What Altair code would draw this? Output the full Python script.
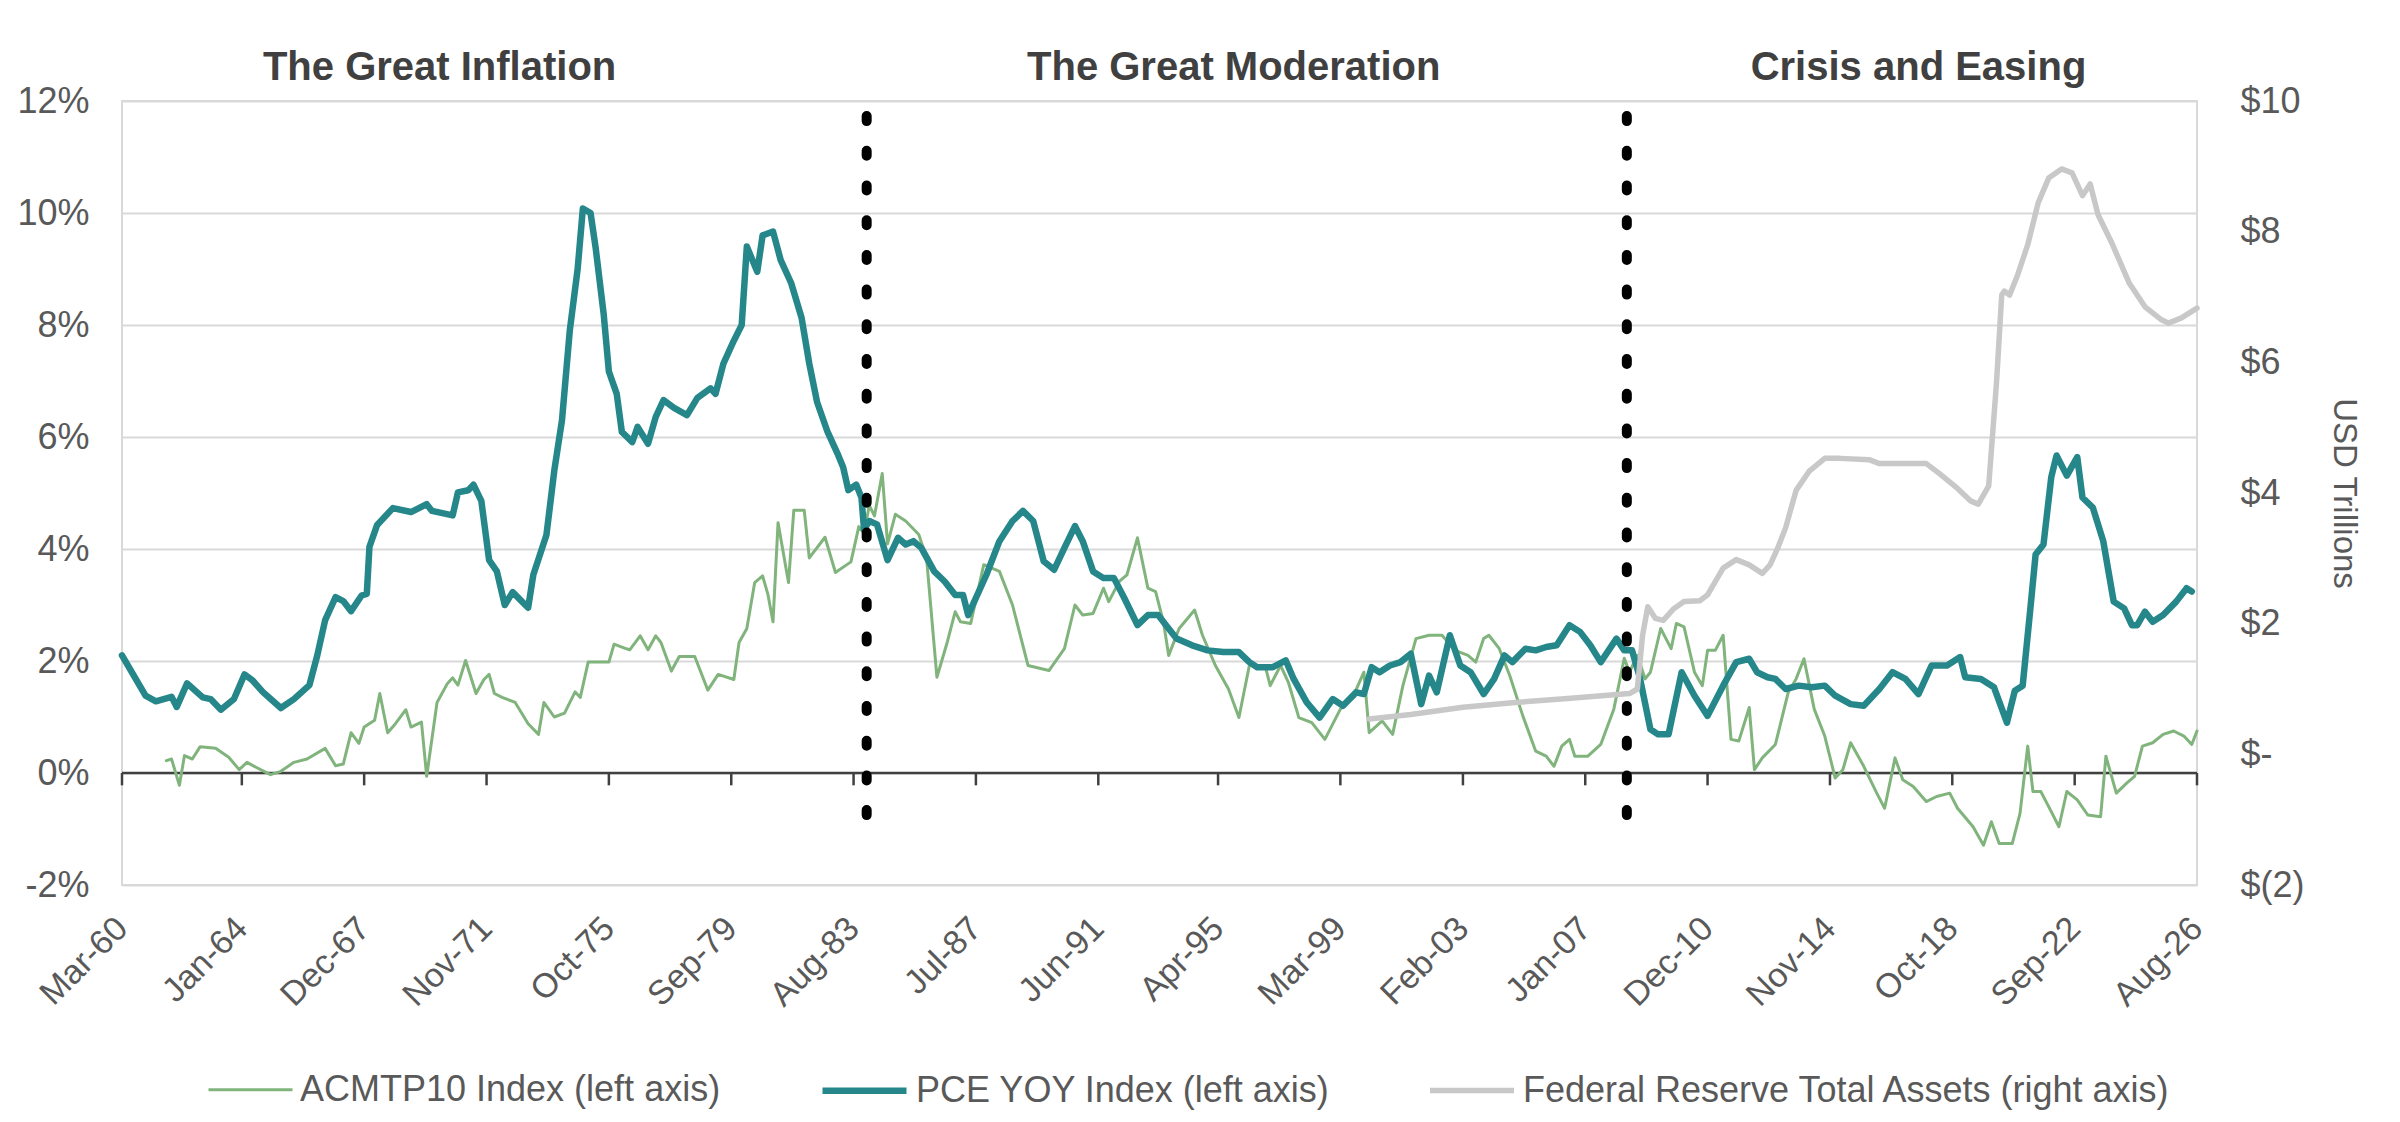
import altair as alt
import pandas as pd

FONT = "Liberation Sans"
TEXT = "#595959"
GRID = "#d9d9d9"

series_names = ["ACMTP10 Index (left axis)", "PCE YOY Index (left axis)",
                "Federal Reserve Total Assets (right axis)"]
series_colors = ["#80b47c", "#26878a", "#c8c8c8"]
series_widths = [3.0, 6.5, 5.5]

tick_dates = ["1960-03", "1964-01", "1967-12", "1971-11", "1975-10", "1979-09",
              "1983-08", "1987-07", "1991-06", "1995-04", "1999-03", "2003-02",
              "2007-01", "2010-12", "2014-11", "2018-10", "2022-09", "2026-08"]

era_labels = ["The Great Inflation", "The Great Moderation", "Crisis and Easing"]
era_dates = ["1970-05", "1995-10", "2017-09"]
era_level = 12.375

divider_dates = ["1984-01", "2008-05"]
divider_top = 11.73
divider_bottom = -0.875

pce_dates = ["1960-03", "1960-12", "1961-04", "1961-10", "1961-12", "1962-04", "1962-10", "1963-01",
             "1963-05", "1963-10", "1964-02", "1964-05", "1964-09", "1965-04", "1965-09", "1966-03",
             "1966-06", "1966-09", "1967-01", "1967-04", "1967-07", "1967-11", "1968-01", "1968-02",
             "1968-05", "1968-11", "1969-06", "1969-12", "1970-02", "1970-10", "1970-12", "1971-04",
             "1971-06", "1971-09", "1971-12", "1972-03", "1972-06", "1972-09", "1973-03", "1973-05",
             "1973-10", "1974-01", "1974-04", "1974-07", "1974-10", "1974-12", "1975-03", "1975-05",
             "1975-08", "1975-10", "1976-01", "1976-03", "1976-07", "1976-09", "1977-01", "1977-04",
             "1977-07", "1977-11", "1978-04", "1978-08", "1979-01", "1979-03", "1979-06", "1979-10",
             "1980-01", "1980-03", "1980-07", "1980-09", "1981-01", "1981-04", "1981-08", "1981-12",
             "1982-03", "1982-06", "1982-10", "1983-02", "1983-04", "1983-06", "1983-09", "1983-11",
             "1983-12", "1984-02", "1984-05", "1984-09", "1985-01", "1985-04", "1985-07", "1985-10",
             "1986-03", "1986-07", "1986-11", "1987-02", "1987-04", "1987-11", "1988-04", "1988-09",
             "1989-01", "1989-05", "1989-09", "1990-01", "1990-05", "1990-09", "1990-12", "1991-04",
             "1991-08", "1991-12", "1992-04", "1992-09", "1993-01", "1993-05", "1993-08", "1993-12",
             "1994-06", "1994-12", "1995-06", "1995-12", "1996-04", "1996-07", "1997-01", "1997-06",
             "1997-09", "1998-02", "1998-07", "1998-12", "1999-04", "1999-09", "1999-12", "2000-03",
             "2000-06", "2000-10", "2001-02", "2001-06", "2001-10", "2002-01", "2002-04", "2002-09",
             "2003-01", "2003-05", "2003-10", "2004-02", "2004-06", "2004-09", "2005-02", "2005-06",
             "2005-10", "2006-02", "2006-07", "2006-11", "2007-03", "2007-07", "2008-01", "2008-04",
             "2008-07", "2008-10", "2009-02", "2009-05", "2009-09", "2010-02", "2010-07", "2010-12",
             "2011-06", "2011-11", "2012-04", "2012-07", "2012-11", "2013-02", "2013-06", "2013-11",
             "2014-04", "2014-09", "2015-01", "2015-07", "2015-12", "2016-06", "2016-11", "2017-04",
             "2017-09", "2018-02", "2018-08", "2019-01", "2019-03", "2019-09", "2020-02", "2020-07",
             "2020-10", "2021-01", "2021-04", "2021-06", "2021-09", "2021-12", "2022-02", "2022-06",
             "2022-10", "2022-12", "2023-04", "2023-08", "2023-12", "2024-04", "2024-07", "2024-09",
             "2024-12", "2025-03", "2025-07", "2025-12", "2026-04", "2026-06"]
pce_vals = [2.10, 1.38, 1.28, 1.36, 1.18, 1.60, 1.35, 1.32,
            1.13, 1.32, 1.76, 1.66, 1.45, 1.16, 1.32, 1.57,
            2.10, 2.73, 3.14, 3.07, 2.89, 3.17, 3.20, 4.04,
            4.43, 4.73, 4.66, 4.80, 4.68, 4.60, 5.01, 5.05,
            5.15, 4.86, 3.80, 3.60, 3.00, 3.23, 2.95, 3.54,
            4.25, 5.40, 6.30, 7.90, 9.00, 10.08, 10.00, 9.36,
            8.20, 7.17, 6.77, 6.09, 5.91, 6.18, 5.88, 6.36,
            6.66, 6.52, 6.39, 6.70, 6.87, 6.77, 7.31, 7.72,
            8.00, 9.40, 8.95, 9.60, 9.67, 9.16, 8.75, 8.13,
            7.31, 6.62, 6.09, 5.68, 5.46, 5.05, 5.15, 4.92,
            4.35, 4.50, 4.44, 3.80, 4.20, 4.08, 4.14, 4.02,
            3.60, 3.42, 3.18, 3.18, 2.82, 3.54, 4.14, 4.50,
            4.68, 4.50, 3.78, 3.63, 4.02, 4.41, 4.14, 3.60,
            3.48, 3.48, 3.12, 2.64, 2.82, 2.82, 2.64, 2.40,
            2.28, 2.19, 2.16, 2.16, 1.98, 1.89, 1.89, 2.01,
            1.68, 1.26, 0.99, 1.32, 1.20, 1.44, 1.41, 1.89,
            1.80, 1.92, 1.98, 2.13, 1.23, 1.74, 1.44, 2.46,
            1.92, 1.80, 1.41, 1.68, 2.10, 1.98, 2.22, 2.19,
            2.25, 2.28, 2.64, 2.52, 2.28, 1.98, 2.40, 2.19,
            2.19, 1.70, 0.78, 0.69, 0.69, 1.80, 1.38, 1.02,
            1.56, 1.98, 2.04, 1.80, 1.71, 1.68, 1.50, 1.56,
            1.53, 1.56, 1.38, 1.23, 1.20, 1.50, 1.80, 1.68,
            1.41, 1.92, 1.92, 2.07, 1.71, 1.68, 1.53, 0.90,
            1.47, 1.56, 2.94, 3.90, 4.08, 5.28, 5.67, 5.31,
            5.64, 4.92, 4.74, 4.14, 3.06, 2.94, 2.64, 2.64,
            2.88, 2.70, 2.82, 3.06, 3.30, 3.24]

acm_dates = ["1961-08", "1961-10", "1962-01", "1962-03", "1962-06", "1962-09", "1963-03", "1963-08",
             "1963-12", "1964-03", "1964-07", "1964-12", "1965-04", "1965-09", "1966-02", "1966-09",
             "1967-01", "1967-04", "1967-07", "1967-10", "1967-12", "1968-04", "1968-06", "1968-09",
             "1968-12", "1969-04", "1969-06", "1969-10", "1969-12", "1970-04", "1970-08", "1970-10",
             "1970-12", "1971-03", "1971-07", "1971-10", "1971-12", "1972-02", "1972-05", "1972-10",
             "1973-03", "1973-07", "1973-09", "1974-01", "1974-05", "1974-09", "1974-11", "1975-02",
             "1975-06", "1975-10", "1975-12", "1976-04", "1976-06", "1976-10", "1977-01", "1977-04",
             "1977-06", "1977-10", "1978-01", "1978-07", "1978-12", "1979-04", "1979-10", "1979-12",
             "1980-03", "1980-06", "1980-09", "1980-11", "1981-01", "1981-03", "1981-07", "1981-09",
             "1982-01", "1982-03", "1982-09", "1983-01", "1983-07", "1983-10", "1983-12", "1984-02",
             "1984-04", "1984-07", "1984-09", "1984-12", "1985-04", "1985-09", "1985-12", "1986-04",
             "1986-08", "1986-11", "1987-01", "1987-05", "1987-10", "1988-04", "1988-09", "1989-03",
             "1989-11", "1990-05", "1990-09", "1990-12", "1991-04", "1991-08", "1991-10", "1992-02",
             "1992-05", "1992-09", "1993-01", "1993-04", "1993-07", "1993-09", "1994-01", "1994-07",
             "1994-10", "1995-03", "1995-08", "1995-12", "1996-04", "1996-10", "1996-12", "1997-04",
             "1997-07", "1997-11", "1998-04", "1998-09", "1999-03", "1999-08", "1999-12", "2000-02",
             "2000-07", "2000-11", "2001-03", "2001-08", "2002-01", "2002-06", "2002-11", "2003-04",
             "2003-07", "2003-10", "2003-12", "2004-04", "2004-08", "2005-01", "2005-06", "2005-10",
             "2006-01", "2006-04", "2006-07", "2006-09", "2007-02", "2007-07", "2007-12", "2008-04",
             "2008-06", "2008-09", "2008-12", "2009-02", "2009-06", "2009-10", "2009-12", "2010-03",
             "2010-07", "2010-10", "2010-12", "2011-03", "2011-06", "2011-09", "2011-12", "2012-04",
             "2012-06", "2012-09", "2013-02", "2013-07", "2013-10", "2014-01", "2014-05", "2014-09",
             "2015-01", "2015-04", "2015-07", "2015-12", "2016-05", "2016-08", "2016-12", "2017-03",
             "2017-07", "2017-12", "2018-04", "2018-09", "2018-12", "2019-06", "2019-10", "2020-01",
             "2020-04", "2020-09", "2020-12", "2021-03", "2021-05", "2021-08", "2021-11", "2022-03",
             "2022-06", "2022-10", "2023-02", "2023-07", "2023-09", "2024-01", "2024-05", "2024-08",
             "2024-11", "2025-03", "2025-07", "2025-11", "2026-03", "2026-06", "2026-08"]
acm_vals = [0.22, 0.25, -0.22, 0.31, 0.25, 0.47, 0.44, 0.28,
            0.06, 0.19, 0.09, -0.03, 0.03, 0.19, 0.25, 0.44,
            0.13, 0.16, 0.72, 0.53, 0.82, 0.94, 1.42, 0.72,
            0.88, 1.13, 0.82, 0.91, -0.06, 1.26, 1.60, 1.70,
            1.57, 2.01, 1.42, 1.67, 1.76, 1.42, 1.35, 1.26,
            0.88, 0.69, 1.26, 1.00, 1.07, 1.45, 1.35, 1.98,
            1.98, 1.98, 2.30, 2.23, 2.20, 2.45, 2.20, 2.45,
            2.33, 1.82, 2.08, 2.08, 1.48, 1.76, 1.67, 2.33,
            2.58, 3.40, 3.52, 3.20, 2.70, 4.47, 3.40, 4.69,
            4.69, 3.84, 4.21, 3.58, 3.77, 4.40, 4.28, 4.78,
            4.59, 5.35, 4.09, 4.62, 4.50, 4.26, 3.84, 1.71,
            2.34, 2.88, 2.70, 2.67, 3.72, 3.60, 3.00, 1.92,
            1.83, 2.22, 3.00, 2.82, 2.85, 3.30, 3.06, 3.42,
            3.54, 4.20, 3.30, 3.24, 2.70, 2.10, 2.58, 2.91,
            2.46, 1.92, 1.50, 0.99, 1.92, 1.92, 1.56, 1.92,
            1.62, 0.99, 0.90, 0.60, 1.14, 1.38, 1.80, 0.72,
            0.93, 0.69, 1.56, 2.40, 2.46, 2.46, 2.19, 2.10,
            1.98, 2.40, 2.46, 2.22, 1.74, 1.02, 0.39, 0.30,
            0.12, 0.48, 0.60, 0.30, 0.30, 0.51, 1.14, 2.05,
            1.80, 2.10, 1.68, 1.80, 2.58, 2.22, 2.67, 2.61,
            1.80, 1.56, 2.19, 2.19, 2.46, 0.60, 0.57, 1.17,
            0.06, 0.27, 0.51, 1.44, 1.68, 2.04, 1.14, 0.66,
            -0.09, 0.06, 0.54, 0.12, -0.36, -0.63, 0.27, -0.12,
            -0.24, -0.51, -0.42, -0.36, -0.63, -0.96, -1.29, -0.87,
            -1.26, -1.26, -0.72, 0.48, -0.33, -0.33, -0.60, -0.96,
            -0.33, -0.48, -0.75, -0.78, 0.30, -0.36, -0.18, -0.06,
            0.48, 0.54, 0.69, 0.75, 0.66, 0.51, 0.75]

fed_dates = ["2000-02", "2001-06", "2003-02", "2004-09", "2006-05", "2008-06", "2008-09", "2008-11",
             "2009-01", "2009-04", "2009-07", "2009-11", "2010-03", "2010-09", "2010-12", "2011-06",
             "2011-11", "2012-04", "2012-09", "2012-12", "2013-03", "2013-06", "2013-10", "2014-03",
             "2014-09", "2015-03", "2016-02", "2016-06", "2017-12", "2018-05", "2018-12", "2019-05",
             "2019-08", "2019-12", "2020-03", "2020-05", "2020-06", "2020-08", "2020-11", "2021-03",
             "2021-07", "2021-11", "2022-04", "2022-08", "2022-12", "2023-03", "2023-06", "2023-11",
             "2024-06", "2024-12", "2025-06", "2025-09", "2026-02", "2026-08"]
fed_vals = [0.54, 0.61, 0.72, 0.79, 0.85, 0.93, 1.00, 1.82,
            2.26, 2.08, 2.05, 2.23, 2.34, 2.35, 2.44, 2.85,
            2.98, 2.90, 2.77, 2.90, 3.16, 3.47, 4.04, 4.33,
            4.53, 4.53, 4.51, 4.45, 4.45, 4.30, 4.07, 3.88,
            3.83, 4.11, 5.69, 7.03, 7.09, 7.03, 7.33, 7.80,
            8.44, 8.82, 8.96, 8.90, 8.55, 8.73, 8.26, 7.85,
            7.21, 6.85, 6.66, 6.60, 6.68, 6.83]


def day(s):
    return s + "-01"


def dtobj(s):
    return alt.DateTime(year=int(s[:4]), month=int(s[5:7]), date=1, utc=True)


left_df = pd.DataFrame({
    "date": [day(d) for d in acm_dates] + [day(d) for d in pce_dates],
    "v": acm_vals + pce_vals,
    "series": [series_names[0]] * len(acm_vals) + [series_names[1]] * len(pce_vals),
})
fed_df = pd.DataFrame({
    "date": [day(d) for d in fed_dates],
    "r": fed_vals,
    "series": [series_names[2]] * len(fed_vals),
})
tick_df = pd.DataFrame({"date": [day(d) for d in tick_dates], "v": 0.0, "v2": -0.22})
zero_df = pd.DataFrame({"v": [0.0]})
div_df = pd.DataFrame({"date": [day(d) for d in divider_dates], "v": divider_top, "v2": divider_bottom})
era_df = pd.DataFrame({"date": [day(d) for d in era_dates], "v": era_level, "label": era_labels})

x_axis = alt.Axis(
    values=[dtobj(d) for d in tick_dates],
    labelExpr="utcFormat(datum.value, '%b-%y')",
    labelAngle=-45, labelAlign="right", labelBaseline="middle",
    labelFontSize=34, labelColor=TEXT, labelFont=FONT, labelPadding=38,
    domain=False, ticks=False, tickSize=0, grid=False, title=None,
    labelOverlap=False, labelFlush=False,
)
x_enc = alt.X(
    "date:T",
    scale=alt.Scale(type="utc", domain=[dtobj("1960-03"), dtobj("2026-08")]),
    axis=x_axis,
)

left_scale = alt.Scale(domain=[-2, 12], nice=False, zero=False)
left_axis = alt.Axis(
    orient="left", values=list(range(-2, 13, 2)), labelExpr="datum.value + '%'",
    labelFontSize=36, labelColor=TEXT, labelFont=FONT, labelPadding=33,
    domain=False, ticks=False, tickSize=0, grid=True, gridColor=GRID, gridWidth=2,
    title=None, labelOverlap=False, labelFlush=False,
)
yL = alt.Y("v:Q", scale=left_scale, axis=left_axis)

right_axis = alt.Axis(
    orient="right", values=list(range(-2, 11, 2)),
    labelExpr="datum.value < 0 ? '$(' + (-datum.value) + ')' : (datum.value == 0 ? '$-' : '$' + datum.value)",
    labelFontSize=36, labelColor=TEXT, labelFont=FONT, labelPadding=43,
    domain=False, ticks=False, tickSize=0, grid=False,
    title="USD Trillions", titleFontSize=33, titleColor=TEXT, titleFont=FONT,
    titleFontWeight="normal", titlePadding=22, labelOverlap=False, labelFlush=False,
)
yR = alt.Y("r:Q", scale=alt.Scale(domain=[-2, 10], nice=False, zero=False), axis=right_axis)

legend = alt.Legend(
    title=None, orient="none", legendX=85, legendY=944, direction="horizontal",
    symbolType="stroke", symbolSize=7056, labelFontSize=36, labelFont=FONT,
    labelColor=TEXT, labelLimit=2000, labelOffset=6, columnPadding=88, padding=0,
)
color_enc = alt.Color("series:O", scale=alt.Scale(type="ordinal", domain=series_names, range=series_colors),
                      legend=legend)
sw_enc = alt.StrokeWidth("series:O", scale=alt.Scale(type="ordinal", domain=series_names, range=series_widths),
                         legend=legend)

zero_line = alt.Chart(zero_df).mark_rule(color="#404040", strokeWidth=2.5).encode(y=yL)
ticks = alt.Chart(tick_df).mark_rule(color="#404040", strokeWidth=2.5).encode(
    x=x_enc, y=yL, y2=alt.Y2("v2"))
left_lines = alt.Chart(left_df).mark_line(strokeJoin="round", strokeCap="round").encode(
    x=x_enc, y=yL, color=color_enc, strokeWidth=sw_enc)

left_layer = alt.layer(zero_line, ticks, left_lines)

fed_line = alt.Chart(fed_df).mark_line(strokeJoin="round", strokeCap="round").encode(
    x=x_enc, y=yR, color=color_enc, strokeWidth=sw_enc)

y_hidden = alt.Y("v:Q", scale=alt.Scale(domain=[-2, 12], nice=False, zero=False), axis=None)
dividers = alt.Chart(div_df).mark_rule(
    color="black", strokeWidth=10, strokeDash=[5, 29.7], strokeCap="round"
).encode(x=x_enc, y=y_hidden, y2=alt.Y2("v2"))
eras = alt.Chart(era_df).mark_text(
    font=FONT, fontSize=40, fontWeight="bold", color="#404040", align="center", baseline="alphabetic"
).encode(x=x_enc, y=y_hidden, text="label:N")

chart = alt.layer(left_layer, fed_line, dividers, eras).resolve_scale(y="independent").properties(
    width=2075, height=784,
    autosize=alt.AutoSizeParams(type="none"),
    padding={"left": 114, "top": 93, "right": 190, "bottom": 229},
).configure(font=FONT).configure_view(stroke=GRID, strokeWidth=2)

chart.save("out.html", embed_options={"renderer": "svg", "actions": False})
